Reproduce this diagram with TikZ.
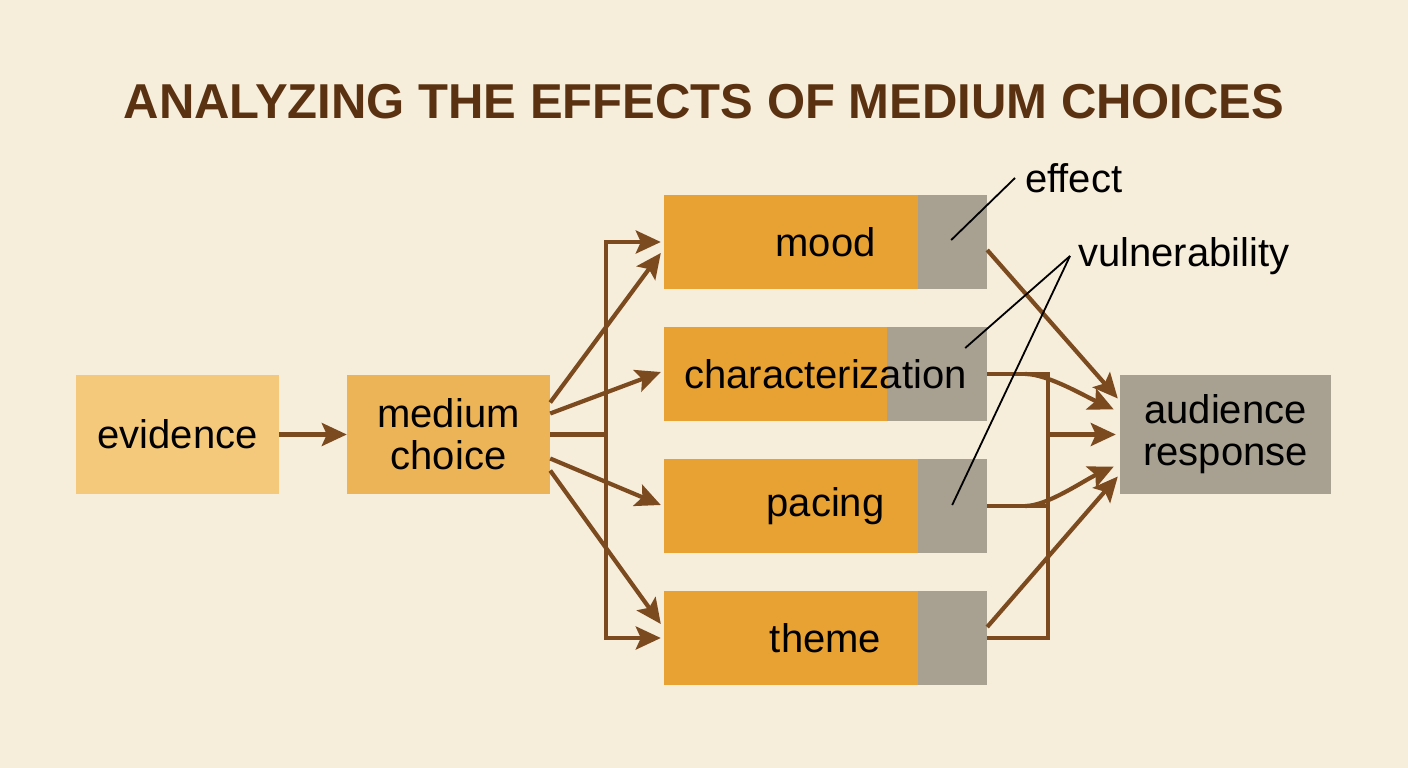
\documentclass[tikz,border=0pt]{standalone}
\usepackage{fontspec}
\setmainfont{Liberation Sans}
\usetikzlibrary{arrows.meta,calc}
\definecolor{bg}{HTML}{F6EDDA}
\definecolor{evfill}{HTML}{F5C97B}
\definecolor{medfill}{HTML}{EDB457}
\definecolor{orfill}{HTML}{E8A233}
\definecolor{grfill}{HTML}{A8A090}
\definecolor{brn}{HTML}{7B4A1E}
\definecolor{ttl}{HTML}{5A3212}
\tikzset{
  box/.style={rectangle, inner sep=0pt, text=black, align=center,
    font=\fontsize{40}{42}\selectfont},
  split/.style={box, fill=orfill, minimum width=323pt, minimum height=94pt,
    path picture={\fill[grfill] ([xshift=-#1]path picture bounding box.north east)
      rectangle (path picture bounding box.south east);}},
  conn/.style={draw=brn, line width=4.2pt},
  arr/.style={conn, -{Stealth[length=25pt,width=23pt,inset=5pt]}},
  callout/.style={draw=black, line width=1.8pt},
  lbl/.style={text=black, inner sep=0pt, font=\fontsize{40}{42}\selectfont}
}
\begin{document}
\begin{tikzpicture}[x=1pt,y=-1pt]
\useasboundingbox (0,0) rectangle (1408,768);
\fill[bg] (0,0) rectangle (1408,768);

\node[anchor=base, text=ttl, font=\fontsize{49}{52}\selectfont\bfseries] (title) at (704,118) {ANALYZING THE EFFECTS OF MEDIUM CHOICES};

\node[box, fill=evfill, minimum width=203pt, minimum height=119pt] (evidence) at (177.5,434.5) {evidence};
\node[box, fill=medfill, minimum width=203pt, minimum height=119pt] (medium) at (448.5,434.5) {medium\\choice};
\node[box, fill=grfill, minimum width=211pt, minimum height=119pt] (aud) at (1225.5,434.5) {audience\\response};

\node[split=69pt] (mood) at (825.5,242) {mood};
\node[split=100pt] (char) at (825.5,374) {characterization};
\node[split=69pt] (pacing) at (825.5,506) {pacing};
\node[split=69pt] (theme) at (825.5,638) {theme};

\node[lbl, anchor=base west] (effect) at (1025,192) {effect};
\node[lbl, anchor=base west] (vul) at (1078,266) {vulnerability};

% left connectors
\draw[arr] (evidence.east) -- (medium.west);
\coordinate (busL) at (606,434.5);
\draw[conn] (medium.east) -- (busL);
\draw[arr] (busL) |- ([xshift=-3pt]mood.west);
\draw[arr] (busL) |- ([xshift=-3pt]theme.west);
\draw[arr] ([yshift=32pt]medium.east) -- ([xshift=-3pt,yshift=-11pt]mood.west);
\draw[arr] ([yshift=21pt]medium.east) -- ([xshift=-3pt,yshift=2pt]char.west);
\draw[arr] ([yshift=-24pt]medium.east) -- ([xshift=-3pt,yshift=1pt]pacing.west);
\draw[arr] ([yshift=-36pt]medium.east) -- ([xshift=-3pt,yshift=14pt]theme.west);

% right connectors
\coordinate (busR) at (1048,434.5);
\draw[conn] (char.east) -- (char.east -| busR) -- (theme.east -| busR) -- (theme.east);
\draw[conn] (pacing.east) -- (pacing.east -| busR);
\draw[arr] (busR) -- ([xshift=-4pt]aud.west);
\draw[arr] ([xshift=38pt]char.east) .. controls +(22,0) and +(-30,-14) .. ([xshift=-6pt,yshift=25pt]aud.west);
\draw[arr] ([xshift=38pt]pacing.east) .. controls +(22,0) and +(-30,14) .. ([xshift=-6pt,yshift=-32pt]aud.west);
\draw[arr] ([yshift=-8pt]mood.east) -- ([xshift=-2pt,yshift=36pt]aud.west);
\draw[arr] ([yshift=11pt]theme.east) -- ([xshift=-2pt,yshift=-42pt]aud.west);

% callouts
\coordinate (cMood) at ([xshift=-36pt,yshift=2pt]mood.east);
\coordinate (cChar) at ([xshift=-22pt,yshift=26pt]char.east);
\coordinate (cPace) at ([xshift=-35pt,yshift=1pt]pacing.east);
\coordinate (vulTip) at (1070,256);
\draw[callout] (cMood) -- ([xshift=-10pt,yshift=14pt]effect.base west);
\draw[callout] (cChar) -- (vulTip);
\draw[callout] (cPace) -- (vulTip);
\end{tikzpicture}
\end{document}
